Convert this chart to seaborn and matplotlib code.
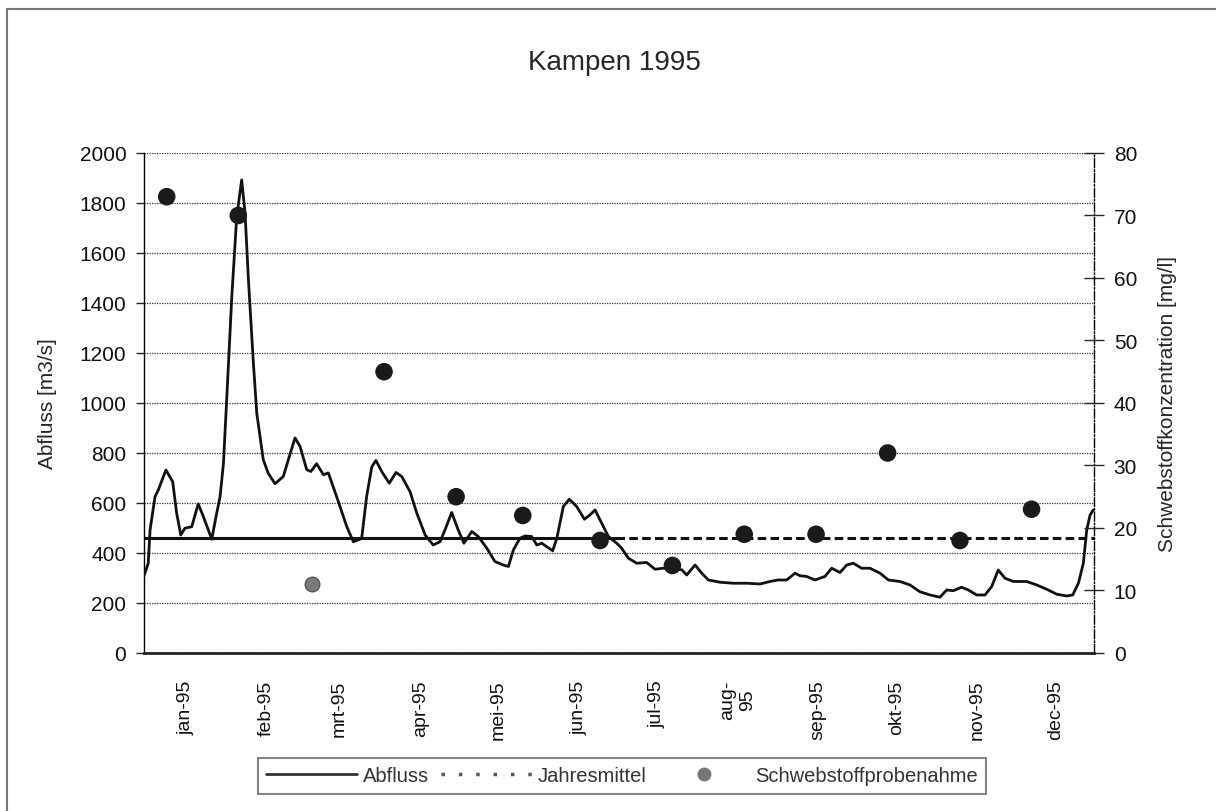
import matplotlib
matplotlib.use('Agg')
import matplotlib.pyplot as plt
from matplotlib.lines import Line2D
from matplotlib.patches import Rectangle
import seaborn as sns

# Abfluss Kampen 1995 (day of year, m3/s)
abfluss_tag = [0, 1.5, 2.2, 4.1, 5.4, 8.3, 10.9, 12.4, 14.0, 15.6, 18.2, 20.7, 22.7,
               25.9, 27.8, 29.1, 30.4, 31.7, 33.6, 35.5, 37.4, 38.7, 40.0, 41.9,
               43.2, 45.7, 47.6, 50.2, 53.4, 55.7, 57.9, 59.8, 62.4, 64.0, 66.2,
               68.8, 70.7, 73.9, 77.8, 80.3, 83.5, 85.4, 87.4, 89.0, 91.2, 94.1,
               96.7, 98.9, 102.1, 104.7, 107.9, 111.0, 113.6, 115.5, 118.1, 120.6,
               122.8, 125.8, 128.3, 131.6, 134.7, 137.9, 139.9, 141.8, 144.3, 146.3,
               148.8, 150.8, 152.7, 154.6, 156.9, 158.5, 161.0, 163.3, 166.1, 169.1,
               171.2, 173.2, 175.1, 178.3, 181.5, 183.4, 186.0, 189.2, 193.0, 196.2,
               199.4, 203.2, 206.5, 208.4, 211.6, 214.2, 216.7, 221.2, 226.3, 231.5,
               236.6, 240.4, 243.6, 246.8, 250.0, 251.9, 254.5, 257.7, 261.5, 264.1,
               267.3, 269.9, 272.4, 275.6, 278.8, 282.7, 285.9, 290.3, 294.2, 298.0,
               301.9, 305.7, 308.3, 310.8, 314.0, 316.6, 319.8, 323.0, 325.6, 328.1,
               330.7, 333.9, 339.0, 342.9, 346.7, 350.6, 354.4, 356.7, 358.9, 360.8,
               362.1, 363.4, 364.6]
abfluss = [312, 359, 492, 625, 653, 732, 685, 560, 472, 499, 505, 596, 545,
           455, 559, 625, 759, 1025, 1425, 1745, 1892, 1759, 1492, 1159,
           959, 773, 719, 677, 706, 786, 860, 827, 733, 726, 757,
           713, 720, 625, 505, 445, 458, 625, 745, 770, 726, 679,
           722, 706, 645, 559, 472, 432, 445, 492, 562, 492,
           439, 486, 466, 419, 366, 352, 346, 412, 459, 468,
           466, 432, 439, 425, 409, 459, 586, 615, 586, 535,
           552, 572, 532, 466, 439, 419, 379, 359, 362, 335,
           339, 335, 333, 312, 352, 319, 292, 283, 279, 279,
           276, 286, 292, 292, 319, 309, 306, 292, 306, 339,
           322, 352, 359, 339, 339, 319, 292, 286, 272, 245,
           232, 223, 252, 249, 263, 252, 232, 232, 266, 332,
           299, 286, 286, 272, 255, 235, 228, 232, 279, 359,
           492, 552, 572]

jahresmittel = 460

# Schwebstoffprobenahme (day of year, mg/l)
probe_tag = [8.6, 36.1, 64.5, 92.1, 119.8, 145.4, 175.1, 202.9, 230.5, 258.1, 285.6, 313.4, 340.9]
probe_konz = [73, 70, 11, 45, 25, 22, 18, 14, 19, 19, 32, 18, 23]
probe_grau = [False, False, True, False, False, False, False, False, False, False, False, False, False]

monat_start = [0, 31, 59, 90, 120, 151, 181, 212, 243, 273, 304, 334]
monat_labels = ['jan-95', 'feb-95', 'mrt-95', 'apr-95', 'mei-95', 'jun-95',
                'jul-95', 'aug-\n95', 'sep-95', 'okt-95', 'nov-95', 'dec-95']

sns.set_style('white')
plt.rcParams['font.family'] = ['Liberation Sans', 'DejaVu Sans']

fig = plt.figure(figsize=(12.16, 8.12), dpi=100)
ax = fig.add_axes([0.1187, 0.1946, 0.7812, 0.6158])

# discharge line + annual mean
sns.lineplot(x=abfluss_tag, y=abfluss, ax=ax, color='#111111', linewidth=2.0,
             estimator=None, sort=False, zorder=3)
split = 0.497
ax.axhline(jahresmittel, xmin=0, xmax=split, color='#111111', lw=2.2, zorder=2)
ax.axhline(jahresmittel, xmin=split, xmax=1, color='#111111', lw=2.2,
           linestyle=(0, (2.8, 1.4)), zorder=2)

ax.set_xlim(0, 365)
ax.set_ylim(0, 2000)
ax.set_yticks(range(0, 2001, 200))
ax.yaxis.grid(True, linestyle=(0, (1, 1)), color='#333333', lw=0.9)
ax.set_ylabel('Abfluss [m3/s]', fontsize=15)
ax.yaxis.set_label_coords(-0.092, 0.5)
ax.tick_params(axis='y', direction='out', length=6, width=1, pad=7, labelsize=15,
               labelcolor='#111111')

# month labels in the middle, ticks at the borders
ax.set_xticks([d + 16 for d in monat_start])
ax.set_xticklabels(monat_labels, rotation=90, fontsize=14, va='top', ha='center',
                   multialignment='center', color='#111111')
ax.set_xticks(monat_start[1:], minor=True)
ax.tick_params(axis='x', which='major', length=0, pad=19)
ax.tick_params(axis='x', which='minor', direction='inout', length=12, width=0.8,
               color='#555555')

for s in ['top', 'right']:
    ax.spines[s].set_visible(False)
ax.spines['left'].set_linewidth(1)
ax.spines['left'].set_color('black')
ax.spines['bottom'].set_linewidth(2)
ax.spines['bottom'].set_color('#222222')

# suspended sediment samples on the right axis
ax2 = ax.twinx()
zwart = [not g for g in probe_grau]
sns.scatterplot(x=[t for t, z in zip(probe_tag, zwart) if z],
                y=[c for c, z in zip(probe_konz, zwart) if z],
                ax=ax2, color='#1a1a1a', s=160, edgecolor='none', zorder=5)
sns.scatterplot(x=[t for t, g in zip(probe_tag, probe_grau) if g],
                y=[c for c, g in zip(probe_konz, probe_grau) if g],
                ax=ax2, color='#7a7a7a', s=110, edgecolor='#555555', linewidth=1, zorder=5)
ax2.set_ylim(0, 80)
ax2.set_xlim(0, 365)
ax2.set_yticks(range(0, 81, 10))
ax2.set_ylabel('Schwebstoffkonzentration [mg/l]', fontsize=15, rotation=90)
ax2.yaxis.set_label_coords(1.067, 0.5)
ax2.tick_params(axis='y', direction='inout', length=14, width=1, pad=7, labelsize=15,
                labelcolor='#111111')
for s in ['top', 'left', 'bottom']:
    ax2.spines[s].set_visible(False)
ax2.spines['right'].set_linestyle('-.')
ax2.spines['right'].set_linewidth(1)
ax2.spines['right'].set_color('black')

fig.text(0.505, 1 - 63 / 812, 'Kampen 1995', fontsize=20, ha='center', va='center')

handles = [
    Line2D([], [], color='#333333', lw=2),
    Line2D([], [], color='#555555', lw=2.5, linestyle=(0, (1, 4))),
    Line2D([], [], color='#777777', marker='o', markersize=9, linestyle='none'),
]
leg = fig.legend(handles, ['Abfluss', 'Jahresmittel', 'Schwebstoffprobenahme'],
                 loc='center', bbox_to_anchor=(0.5115, 1 - 777 / 812), ncol=3,
                 fontsize=14.5, handlelength=4.5, handletextpad=0.3, columnspacing=0.6,
                 frameon=True, fancybox=False, edgecolor='#666666', borderpad=0.4)
leg.get_frame().set_linewidth(1.5)
for t in leg.get_texts():
    t.set_color('#333333')

# outer chart border (scan cuts it off at right and bottom)
fig.add_artist(Rectangle((7 / 1216, -0.05), 1.1, 1 - 10 / 812 + 0.05,
                         transform=fig.transFigure, fill=False,
                         edgecolor='#777777', lw=1.5))

fig.savefig('out.png', dpi=100)
